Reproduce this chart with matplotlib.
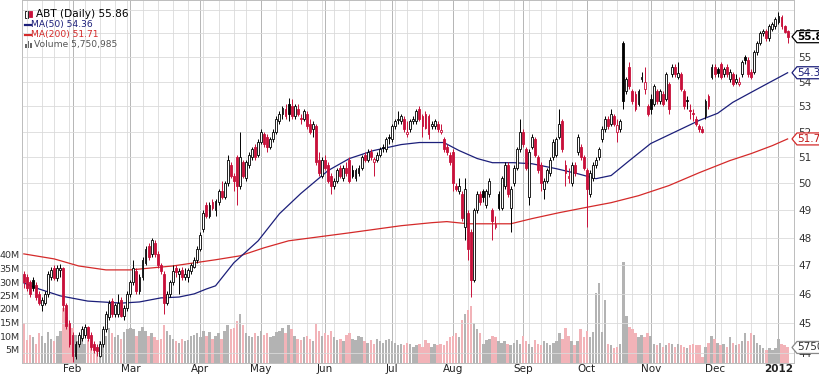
import numpy as np
import pandas as pd
import matplotlib
matplotlib.use("Agg")
import matplotlib.pyplot as plt
from matplotlib.patches import Polygon, Rectangle
from matplotlib.ticker import NullLocator

# trading calendar (NYSE holidays)
holidays = ['2011-01-17', '2011-02-21', '2011-04-22', '2011-05-30', '2011-07-04',
            '2011-09-05', '2011-11-24', '2011-12-26', '2012-01-02']

# daily OHLC, Jan 7 2011 .. Jan 6 2012
opens = [
    46.70, 46.60, 46.40, 46.50, 46.30, 46.00, 45.60, 45.70, 46.00, 46.60, 46.90, 46.55, 46.85, 46.90, 45.60, 45.00,
    44.60, 43.90, 44.30, 44.50, 44.60, 44.85, 44.60, 44.30, 44.20, 43.90, 44.30, 44.80, 45.20, 45.75, 45.30, 45.30,
    45.80, 45.25, 45.50,
    46.00, 46.40, 46.80, 46.10, 46.60, 47.10, 47.70, 47.40, 47.80, 47.40, 47.00, 46.70, 45.70, 46.00, 46.40, 46.90,
    46.70, 46.85, 46.60, 46.60, 46.80, 46.95, 47.20,
    47.60, 48.30, 49.20, 48.80, 49.30, 49.00, 49.30, 49.70, 49.50, 50.00, 50.70, 50.30, 51.00, 49.90, 50.80, 50.20,
    50.70, 51.00, 51.40, 51.10,
    51.60, 51.90, 51.80, 51.40, 51.70, 52.00, 52.40, 52.70, 52.90, 53.10, 53.00, 52.60, 52.90, 52.50, 52.50, 52.70,
    52.30, 52.10, 52.20, 50.90, 50.30,
    50.90, 50.70, 50.30, 49.90, 50.10, 50.60, 50.20, 50.60, 50.90, 50.50, 50.20, 50.40, 50.60, 51.10, 50.90, 51.20,
    50.80, 50.90, 51.10, 51.40, 51.30, 51.80,
    51.70, 52.20, 52.45, 52.40, 52.50, 51.90, 52.10, 52.40, 52.40, 52.90, 52.60, 52.70, 52.60, 52.20, 52.20, 52.30,
    52.00, 51.70, 51.40, 51.10,
    51.20, 49.90, 49.70, 49.60, 48.40, 48.90, 48.20, 46.50, 49.00, 49.60, 49.70, 49.20, 49.60, 49.00, 48.40, 49.60,
    49.10, 49.90, 50.70, 49.10, 50.00, 50.60, 51.30,
    52.00, 51.30, 49.50, 51.40, 51.70, 51.00, 50.70, 49.80, 50.10, 50.40, 51.00, 51.10, 51.80, 52.40, 50.70, 50.20,
    50.00, 50.70, 51.20, 51.40, 51.00,
    50.50, 49.60, 50.20, 50.70, 51.00, 51.70, 52.10, 52.50, 52.30, 52.60, 52.00, 52.10, 55.60, 53.60, 54.60, 53.60,
    53.50, 53.10, 54.10, 53.70, 53.00,
    53.30, 53.10, 53.60, 53.20, 53.50, 53.30, 53.90, 54.30, 54.60, 54.20, 54.30, 53.60, 53.25, 52.85, 52.70, 52.50,
    52.20, 52.10, 52.60, 53.40, 54.20,
    54.60, 54.50, 54.70, 54.30, 54.60, 54.10, 54.30, 54.00, 53.90, 54.30, 55.00, 54.90, 54.40, 54.40, 55.20, 55.60,
    56.00, 56.10, 55.80, 56.20, 56.30,
    56.50, 56.70, 56.30, 56.10,
]
highs = [
    46.80, 46.70, 46.50, 46.60, 46.40, 46.10, 45.90, 46.10, 46.80, 46.95, 47.00, 47.00, 47.05, 46.95, 45.70, 45.10,
    44.70, 44.40, 44.70, 44.90, 44.95, 44.90, 44.70, 44.40, 44.30, 44.40, 44.90, 45.40, 45.80, 45.85, 45.70, 46.00,
    45.90, 45.60, 46.10,
    46.50, 47.20, 46.90, 46.70, 47.30, 47.70, 47.80, 48.00, 47.90, 47.50, 47.10, 46.80, 46.10, 46.50, 47.00, 47.00,
    46.90, 46.95, 46.90, 46.90, 47.10, 47.30, 47.70,
    48.20, 49.00, 49.30, 49.30, 49.40, 49.40, 49.80, 50.10, 50.10, 51.10, 50.80, 50.40, 51.10, 52.00, 50.90, 50.90,
    51.20, 51.40, 51.50, 51.70,
    52.10, 52.00, 51.90, 51.80, 52.10, 52.60, 52.80, 53.00, 53.10, 53.35, 53.30, 53.10, 53.10, 52.70, 52.90, 52.80,
    52.50, 52.40, 52.30, 51.20, 51.00,
    51.10, 50.80, 50.40, 50.20, 50.60, 50.70, 50.70, 50.80, 51.00, 50.70, 50.60, 50.70, 51.10, 51.20, 51.30, 51.30,
    51.00, 51.20, 51.40, 51.50, 51.80, 51.90,
    52.30, 52.50, 52.80, 52.70, 52.60, 52.40, 52.50, 52.60, 52.90, 53.00, 52.70, 52.80, 52.70, 52.40, 52.50, 52.40,
    52.30, 51.80, 51.50, 51.20,
    51.30, 50.00, 50.20, 49.70, 50.20, 49.00, 48.30, 49.10, 49.70, 49.70, 49.80, 49.80, 50.20, 49.10, 48.80, 49.70,
    50.30, 50.80, 50.80, 49.90, 50.70, 51.40, 52.50,
    52.10, 51.40, 51.30, 51.90, 51.80, 51.10, 50.80, 50.20, 50.60, 51.00, 51.70, 51.80, 52.90, 52.50, 50.90, 50.60,
    50.80, 50.80, 51.90, 51.50, 51.10,
    50.60, 50.50, 50.80, 51.00, 51.40, 52.20, 52.60, 52.60, 52.90, 52.70, 52.50, 52.50, 55.70, 54.20, 54.80, 53.70,
    53.60, 53.70, 54.40, 54.60, 53.10,
    53.50, 53.90, 53.70, 53.70, 53.60, 54.40, 54.00, 54.70, 54.70, 54.80, 54.40, 53.70, 53.40, 53.10, 52.90, 52.60,
    52.30, 52.20, 53.30, 53.50, 54.70,
    54.70, 54.60, 54.80, 54.60, 54.70, 54.50, 54.40, 54.30, 54.20, 54.90, 55.10, 55.00, 54.50, 55.30, 55.70, 56.10,
    56.20, 56.20, 56.40, 56.50, 56.70,
    56.90, 56.80, 56.35, 56.15,
]
lows = [
    46.20, 46.10, 45.90, 46.10, 45.80, 45.60, 45.40, 45.60, 45.90, 46.50, 46.50, 46.45, 46.60, 45.40, 44.80, 44.20,
    43.70, 43.80, 44.20, 44.40, 44.50, 44.40, 44.10, 44.00, 43.90, 43.85, 44.20, 44.70, 45.10, 45.20, 45.20, 45.20,
    45.20, 45.10, 45.40,
    45.90, 46.30, 46.00, 46.00, 46.50, 47.00, 47.20, 47.30, 47.30, 46.90, 46.70, 45.30, 45.60, 45.90, 46.30, 46.60,
    46.00, 46.50, 46.50, 46.40, 46.70, 46.90, 47.10,
    47.50, 48.20, 48.70, 48.70, 49.00, 48.80, 49.20, 49.40, 49.40, 49.90, 50.20, 49.70, 49.20, 49.80, 50.20, 50.10,
    50.60, 50.90, 50.90, 51.00,
    51.50, 51.40, 51.20, 51.30, 51.60, 51.90, 52.30, 52.50, 52.50, 52.40, 52.50, 52.50, 52.60, 52.30, 52.40, 52.10,
    51.90, 51.80, 50.70, 50.30, 50.20,
    50.50, 50.00, 49.60, 49.80, 50.00, 50.20, 50.10, 50.30, 50.00, 50.20, 50.10, 50.30, 50.50, 50.80, 50.80, 50.90,
    50.30, 50.80, 51.00, 51.20, 51.20, 51.50,
    51.60, 52.10, 52.30, 52.30, 52.00, 51.80, 52.00, 52.30, 52.30, 52.40, 51.80, 52.10, 51.70, 52.10, 52.10, 52.00,
    51.90, 51.20, 51.10, 50.70,
    49.70, 49.70, 49.60, 48.60, 47.90, 47.20, 45.90, 46.40, 48.90, 49.20, 49.30, 49.10, 49.50, 47.90, 48.30, 49.00,
    49.00, 49.80, 49.50, 48.20, 49.90, 50.50, 51.20,
    51.40, 50.50, 49.20, 51.30, 51.00, 50.40, 49.70, 49.40, 50.00, 50.30, 50.90, 51.00, 51.70, 51.20, 49.90, 50.00,
    49.90, 50.30, 51.10, 50.90, 50.50,
    48.40, 49.50, 50.10, 50.60, 50.90, 51.60, 52.00, 52.10, 52.20, 52.20, 51.60, 52.00, 52.90, 53.50, 53.70, 53.10,
    52.80, 53.00, 54.00, 53.50, 52.60,
    52.70, 53.00, 53.10, 53.10, 53.00, 53.20, 52.70, 54.20, 54.20, 54.10, 53.60, 52.90, 52.90, 52.50, 52.40, 52.20,
    52.00, 51.95, 52.50, 52.90, 54.10,
    54.20, 54.20, 54.10, 54.20, 54.20, 54.00, 53.80, 53.90, 53.80, 54.20, 54.70, 54.20, 54.10, 54.30, 55.10, 55.50,
    55.90, 55.70, 55.70, 56.10, 56.20,
    56.40, 56.20, 56.00, 55.60,
]
closes = [
    46.40, 46.20, 46.00, 46.20, 45.90, 45.70, 45.80, 46.00, 46.70, 46.85, 46.55, 46.90, 46.90, 45.60, 44.90, 44.30,
    43.90, 44.30, 44.60, 44.80, 44.85, 44.50, 44.20, 44.10, 44.05, 44.30, 44.80, 45.30, 45.70, 45.30, 45.60, 45.70,
    45.25, 45.50, 46.00,
    46.40, 46.90, 46.10, 46.60, 47.20, 47.60, 47.30, 47.90, 47.40, 47.00, 46.80, 45.70, 46.00, 46.40, 46.80, 46.75,
    46.80, 46.60, 46.70, 46.85, 47.00, 47.20, 47.60,
    48.10, 48.90, 48.80, 49.20, 49.10, 49.35, 49.70, 49.50, 50.00, 50.90, 50.30, 50.10, 49.90, 51.00, 50.30, 50.80,
    51.10, 51.30, 51.00, 51.60,
    52.00, 51.50, 51.40, 51.70, 52.00, 52.50, 52.70, 52.95, 52.60, 52.70, 52.60, 53.00, 52.70, 52.50, 52.80, 52.20,
    52.00, 52.30, 50.80, 50.40, 50.90,
    50.60, 50.10, 49.90, 50.10, 50.50, 50.30, 50.60, 50.40, 50.10, 50.30, 50.50, 50.60, 51.00, 50.90, 51.20, 51.00,
    50.95, 51.10, 51.30, 51.35, 51.70, 51.75,
    52.20, 52.40, 52.50, 52.60, 52.10, 52.00, 52.40, 52.50, 52.80, 52.50, 52.20, 52.15, 51.90, 52.30, 52.40, 52.10,
    52.05, 51.30, 51.20, 50.80,
    50.00, 49.80, 49.90, 48.70, 49.80, 47.60, 46.50, 49.00, 49.60, 49.30, 49.50, 49.70, 50.10, 48.60, 48.50, 49.10,
    50.20, 50.70, 49.60, 49.80, 50.60, 51.30, 52.00,
    51.50, 50.60, 51.20, 51.80, 51.10, 50.50, 50.00, 50.10, 50.50, 50.90, 51.60, 51.70, 52.30, 51.30, 50.40, 50.30,
    50.70, 50.40, 51.80, 51.00, 50.60,
    49.80, 50.40, 50.70, 50.90, 51.30, 52.10, 52.50, 52.20, 52.70, 52.30, 52.25, 52.40, 53.20, 54.10, 53.80, 53.20,
    52.90, 53.60, 54.20, 54.00, 52.70,
    52.90, 53.80, 53.20, 53.60, 53.10, 54.30, 52.90, 54.60, 54.30, 54.35, 53.70, 53.00, 53.20, 52.80, 52.70, 52.30,
    52.10, 52.00, 53.20, 53.00, 54.60,
    54.30, 54.35, 54.20, 54.50, 54.30, 54.40, 53.90, 54.10, 54.00, 54.80, 54.90, 54.30, 54.20, 55.20, 55.60, 56.00,
    56.10, 55.80, 56.30, 56.40, 56.60,
    56.75, 56.30, 56.05, 55.86,
]
# daily volume, millions of shares
volumes = [
    15.0, 8.5, 10.5, 9.5, 7.0, 11.0, 10.0, 7.5, 11.5, 9.0, 8.0, 10.0, 12.0, 20.5, 17.0, 14.5,
    13.0, 10.5, 8.0, 9.5, 7.0, 8.5, 7.5, 6.5, 6.0, 8.0, 12.0, 10.0, 13.0, 11.0, 9.5, 10.5, 9.0, 11.5, 12.5,
    13.0, 12.5, 10.0, 12.0, 13.5, 12.0, 10.0, 11.0, 9.5, 8.5, 9.0, 14.0, 12.0, 10.5, 9.0, 8.0, 7.5, 9.0, 8.0,
    8.5, 10.0, 10.5, 11.0,
    9.5, 12.0, 10.0, 11.5, 9.0, 10.0, 11.0, 9.0, 12.0, 14.0, 12.5, 13.0, 15.5, 18.0, 14.0, 11.0, 10.0, 9.5, 11.0, 10.0,
    12.0, 10.5, 11.0, 9.5, 10.0, 11.5, 12.0, 13.0, 11.0, 14.0, 12.5, 10.0, 9.0, 8.5, 9.5, 10.0, 9.0, 8.0, 14.5,
    12.0, 10.0,
    11.0, 10.5, 12.0, 9.5, 8.5, 9.0, 8.0, 10.5, 11.0, 9.0, 8.5, 10.0, 9.5, 8.0, 7.5, 8.5, 7.0, 9.0, 8.0, 7.5, 8.5, 9.0,
    8.0, 7.5, 6.5, 7.0, 6.5, 7.5, 7.0, 6.0, 6.5, 7.0, 6.0, 8.5, 7.5, 6.0, 7.0, 6.5, 7.0, 6.5, 8.0, 9.5,
    10.0, 11.0, 9.5, 16.0, 18.0, 19.5, 21.0, 15.0, 12.5, 11.0, 7.0, 8.5, 9.0, 10.0, 9.5, 8.0, 7.5, 8.0, 7.0, 6.5,
    7.5, 8.5, 7.0,
    10.0, 8.0, 7.0, 6.0, 8.5, 7.0, 6.5, 8.0, 7.5, 6.5, 7.5, 8.0, 11.0, 9.0, 13.0, 10.0, 8.0, 6.5, 8.0, 12.5, 9.5,
    12.0, 9.5, 11.5, 26.0, 29.5, 11.5, 23.5, 7.0, 6.5, 5.5, 6.0, 7.0, 37.5, 17.5, 13.5, 12.5, 11.0, 9.5, 10.5,
    9.5, 11.0,
    10.0, 7.0, 6.5, 7.5, 6.0, 6.5, 7.5, 7.0, 6.0, 7.0, 6.5, 6.0, 5.5, 6.5, 7.0, 6.5, 6.5, 2.2, 6.0, 7.5, 10.0,
    9.0, 7.5, 6.5, 7.0, 6.0, 9.5, 7.5, 6.5, 7.0, 8.0, 11.0, 8.0, 11.0, 10.5, 7.5, 6.5, 5.5, 5.0, 5.5, 5.0, 5.5,
    9.0, 7.0, 6.5, 5.75,
]

# moving averages
ma50_dates = ['2011-01-07', '2011-01-14', '2011-01-26', '2011-02-08', '2011-02-24', '2011-03-04', '2011-03-15',
              '2011-03-23', '2011-03-30', '2011-04-05', '2011-04-08', '2011-04-18', '2011-04-29', '2011-05-10',
              '2011-05-19', '2011-06-02', '2011-06-13', '2011-06-23', '2011-07-07', '2011-07-15', '2011-07-27',
              '2011-08-03', '2011-08-11', '2011-08-18', '2011-08-29', '2011-09-07', '2011-09-19', '2011-09-28',
              '2011-10-06', '2011-10-13', '2011-10-21', '2011-11-01', '2011-11-14', '2011-11-23', '2011-12-02',
              '2011-12-09', '2011-12-19', '2011-12-28', '2012-01-06']
ma50_vals = [46.38, 46.17, 45.93, 45.75, 45.68, 45.72, 45.86, 45.89, 46.00, 46.17, 46.28, 47.09, 47.88, 48.87,
             49.62, 50.49, 50.95, 51.26, 51.49, 51.57, 51.57, 51.26, 50.95, 50.79, 50.79, 50.75, 50.56, 50.37,
             50.18, 50.30, 50.87, 51.53, 52.04, 52.44, 52.72, 53.16, 53.56, 53.96, 54.36]
ma200_dates = ['2011-01-07', '2011-01-24', '2011-02-03', '2011-02-16', '2011-03-01', '2011-03-10', '2011-03-21',
               '2011-03-30', '2011-04-08', '2011-04-20', '2011-05-03', '2011-05-13', '2011-06-13', '2011-07-07',
               '2011-07-21', '2011-07-28', '2011-08-08', '2011-08-26', '2011-09-07', '2011-09-20', '2011-10-04',
               '2011-10-13', '2011-10-26', '2011-11-09', '2011-11-23', '2011-12-08', '2011-12-19', '2011-12-29',
               '2012-01-06']
ma200_vals = [47.41, 47.23, 46.98, 46.84, 46.84, 46.91, 46.98, 47.09, 47.20, 47.34, 47.63, 47.88, 48.17, 48.43,
              48.54, 48.58, 48.50, 48.50, 48.69, 48.91, 49.13, 49.28, 49.54, 49.92, 50.41, 50.87, 51.14, 51.45,
              51.71]

month_names = ['Feb', 'Mar', 'Apr', 'May', 'Jun', 'Jul', 'Aug', 'Sep', 'Oct', 'Nov', 'Dec', '2012']
vol_ticks = [5, 10, 15, 20, 25, 30, 35, 40]
last_close, last_ma50, last_ma200, last_vol = 55.86, 54.36, 51.71, 5750985

n = len(closes)
days = pd.bdate_range('2011-01-07', '2012-01-10', freq='C', holidays=holidays)[:n]
pos = {d.strftime('%Y-%m-%d'): i for i, d in enumerate(days)}
x = np.arange(n)
o, h, l, c = (np.array(a) for a in (opens, highs, lows, closes))
v = np.array(volumes)

prev = np.r_[o[0], c[:-1]]
up = c >= prev
RED = '#c8103a'
edge = np.where(up, 'black', RED)
fill = np.where(c > o, 'white', edge)
vcol = np.where(up, '#b3b3b3', '#f2b3b8')

W, H = 820, 375
fig = plt.figure(figsize=(W / 100, H / 100), dpi=100)
ax = fig.add_axes([22 / W, 12 / H, (794 - 22) / W, 363 / H])
axv = ax.twinx()
ax.set_zorder(2)
axv.set_zorder(1)
ax.patch.set_visible(False)

# grid
month_first = [i for i in range(1, n) if days[i].month != days[i - 1].month]
week_first = [i for i in range(1, n) if days[i].weekday() < days[i - 1].weekday()]
for i in week_first:
    axv.axvline(i, color='#dadada', lw=0.6, zorder=0)
for i in month_first:
    axv.axvline(i, color='#b5b5b5', lw=0.7, zorder=0)

axv.bar(x, v, width=0.8, color=vcol, zorder=2)
axv.set_ylim(0, 363 / 2.7)
axv.yaxis.tick_left()
axv.set_yticks(vol_ticks)
axv.set_yticklabels([f'{t}M' for t in vol_ticks])
axv.tick_params(axis='y', length=0, pad=1.5, labelsize=6.8, colors='#333333')

ax.set_yscale('log')
ax.set_ylim(43.66, 57.43)
ax.set_xlim(-0.6, 253.1)
ax.yaxis.set_minor_locator(NullLocator())
price_ticks = list(range(44, 58))
ax.set_yticks(price_ticks)
ax.set_yticklabels([str(t) if t <= 56 else '' for t in price_ticks])
ax.yaxis.tick_right()
ax.tick_params(axis='y', length=0, pad=3, labelsize=7.5, colors='#333333')
for t in price_ticks:
    ax.axhline(t, color='#dadada', lw=0.6, zorder=0)

ax.set_xticks(month_first)
ax.set_xticklabels(month_names)
ax.tick_params(axis='x', length=0, pad=1, labelsize=7.5, colors='#222222')
ax.get_xticklabels()[-1].set_fontweight('bold')
for a in (ax, axv):
    for s in a.spines.values():
        s.set_color('#bdbdbd')
        s.set_linewidth(0.6)

# moving averages
ax.plot([pos[d] for d in ma200_dates], ma200_vals, color='#d42a2a', lw=0.9, zorder=3)
ax.plot([pos[d] for d in ma50_dates], ma50_vals, color='#1c1f7a', lw=0.9, zorder=3)

# candles
ax.vlines(x, l, h, colors=edge, lw=0.7, zorder=4)
ax.bar(x, np.maximum(np.abs(c - o), 0.02), bottom=np.minimum(o, c), width=0.62,
       color=fill, edgecolor=edge, linewidth=0.6, zorder=5)

# legend (top left)
def fy(y):
    return 1 - y / H

fig.add_artist(Rectangle((25.5 / W, fy(18)), 2.5 / W, 7 / H, facecolor='white', edgecolor='black', lw=0.6))
fig.add_artist(Rectangle((29.5 / W, fy(17)), 2.5 / W, 6 / H, facecolor=RED, edgecolor=RED, lw=0.6))
fig.text(36 / W, fy(14), f'ABT (Daily) {last_close:.2f}', fontsize=7.6, va='center', color='black')
fig.add_artist(plt.Line2D([25 / W, 31 / W], [fy(24.5)] * 2, color='#1c1f7a', lw=1.6))
fig.text(31 / W, fy(24.5), f'MA(50) {last_ma50:.2f}', fontsize=6.6, va='center', color='#1c1f7a')
fig.add_artist(plt.Line2D([25 / W, 31 / W], [fy(35)] * 2, color='#d42a2a', lw=1.6))
fig.text(31 / W, fy(35), f'MA(200) {last_ma200:.2f}', fontsize=6.6, va='center', color='#d42a2a')
for k, hh in enumerate([4, 7, 5]):
    fig.add_artist(Rectangle(((25 + 2.6 * k) / W, fy(48)), 1.8 / W, hh / H, facecolor='#666666', lw=0))
fig.text(34 / W, fy(44.5), f'Volume {last_vol:,}', fontsize=6.6, va='center', color='#555555')

# value tags on the right edge
fig.canvas.draw()
def tag(axis, value, text, color, tcolor, bold=False):
    yd = axis.transData.transform((0, value))[1]
    x0 = ax.transAxes.transform((1, 0))[0] - 2
    pts = [(x0, yd), (x0 + 5, yd + 6), (x0 + 40, yd + 6), (x0 + 40, yd - 6), (x0 + 5, yd - 6)]
    fig.add_artist(Polygon(pts, closed=True, transform=None, facecolor='white', edgecolor=color, lw=0.9,
                           zorder=10))
    fig.text((x0 + 5.5) / W, yd / H, text, fontsize=7.5, va='center', ha='left', color=tcolor,
             fontweight='bold' if bold else 'normal', zorder=11)

tag(ax, last_close, f'{last_close:.2f}', 'black', 'black', bold=True)
tag(ax, last_ma50, f'{last_ma50:.2f}', '#1c1f7a', '#1c1f7a')
tag(ax, last_ma200, f'{last_ma200:.2f}', '#d42a2a', '#c01818')
tag(axv, last_vol / 1e6, f'{last_vol // 1000}', '#888888', '#333333')

fig.savefig('out.png', dpi=100)
